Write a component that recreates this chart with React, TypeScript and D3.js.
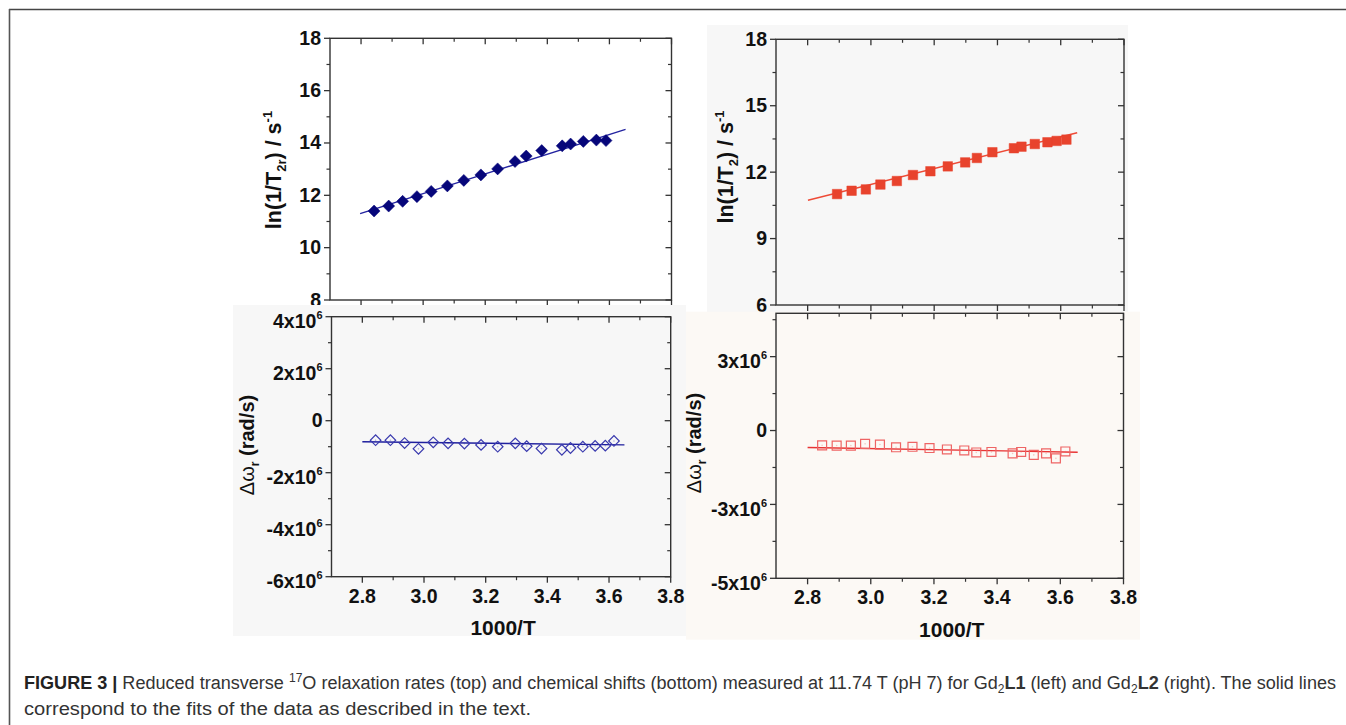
import React from 'react';
import * as d3 from 'd3';

const W = 1346;
const H = 725;

// ---- data (x = 1000/T) ----
const xL1top = [2.842, 2.889, 2.934, 2.980, 3.026, 3.078, 3.131, 3.186, 3.240, 3.296, 3.332, 3.382, 3.448, 3.475, 3.516, 3.558, 3.589];
const lnT2rL1 = [11.40, 11.59, 11.77, 11.95, 12.15, 12.36, 12.57, 12.78, 13.01, 13.29, 13.50, 13.71, 13.89, 13.96, 14.06, 14.11, 14.09];
const fitL1topX = [2.797, 3.2, 3.652];
const fitL1topY = [11.30, 12.82, 14.52];

const xL2top = [2.893, 2.939, 2.984, 3.030, 3.082, 3.133, 3.188, 3.243, 3.298, 3.335, 3.384, 3.452, 3.476, 3.518, 3.558, 3.587, 3.618];
const lnT2L2 = [11.01, 11.16, 11.22, 11.44, 11.60, 11.87, 12.04, 12.26, 12.44, 12.64, 12.90, 13.08, 13.15, 13.27, 13.35, 13.41, 13.47];
const fitL2topX = [2.801, 3.652];
const fitL2topY = [10.73, 13.78];

const xL1bot = [2.843, 2.891, 2.937, 2.982, 3.030, 3.078, 3.131, 3.185, 3.239, 3.296, 3.333, 3.381, 3.447, 3.475, 3.515, 3.555, 3.588, 3.616];
const dwL1 = [-0.75e6, -0.75e6, -0.86e6, -1.08e6, -0.83e6, -0.87e6, -0.88e6, -0.93e6, -1.0e6, -0.87e6, -0.98e6, -1.07e6, -1.12e6, -1.05e6, -1.0e6, -0.97e6, -0.96e6, -0.78e6];
const fitL1botX = [2.8, 3.65];
const fitL1botY = [-0.81e6, -0.93e6];

const xL2bot = [2.846, 2.892, 2.937, 2.982, 3.029, 3.080, 3.132, 3.186, 3.241, 3.296, 3.334, 3.382, 3.449, 3.476, 3.516, 3.555, 3.586, 3.616];
const dwL2 = [-0.60e6, -0.61e6, -0.61e6, -0.54e6, -0.57e6, -0.68e6, -0.66e6, -0.71e6, -0.77e6, -0.81e6, -0.89e6, -0.87e6, -0.93e6, -0.87e6, -0.99e6, -0.93e6, -1.13e6, -0.85e6];
const fitL2botX = [2.8, 3.655];
const fitL2botY = [-0.69e6, -0.88e6];

// ---- axes ----
const xDomain: [number, number] = [2.7, 3.8];
const xMajor = [2.8, 3.0, 3.2, 3.4, 3.6, 3.8];
const xMajorLabels = ['2.8', '3.0', '3.2', '3.4', '3.6', '3.8'];
const xMinor = [2.9, 3.1, 3.3, 3.5, 3.7];

const yTL = { domain: [8, 18], major: [8, 10, 12, 14, 16, 18], labels: ['8', '10', '12', '14', '16', '18'], minor: [9, 11, 13, 15, 17] };
const yTR = { domain: [6, 18], major: [6, 9, 12, 15, 18], labels: ['6', '9', '12', '15', '18'], minor: [7.5, 10.5, 13.5, 16.5] };
const yBL = {
  domain: [-6e6, 4e6],
  major: [-6e6, -4e6, -2e6, 0, 2e6, 4e6],
  labels: ['-6x10^6', '-4x10^6', '-2x10^6', '0', '2x10^6', '4x10^6'],
  minor: [-5e6, -3e6, -1e6, 1e6, 3e6],
};
const yBR = {
  domain: [-6e6, 4.76e6],
  major: [-6e6, -3e6, 0, 3e6],
  labels: ['-5x10^6', '-3x10^6', '0', '3x10^6'],
  minor: [-4.5e6, -1.5e6, 1.5e6, 4.5e6],
};

const FONT = "'Liberation Sans', Arial, Helvetica, sans-serif";

type Box = { l: number; t: number; r: number; b: number };

function TickLabel({ x, y, text, anchor }: { x: number; y: number; text: string; anchor: string }) {
  const [base, sup] = text.split('^');
  return (
    <text x={x} y={y} textAnchor={anchor} fontFamily={FONT} fontWeight="bold" fontSize={19.5} fill="#111">
      {base}
      {sup && (
        <tspan fontSize={11} dy={-9}>
          {sup}
        </tspan>
      )}
    </text>
  );
}

type PanelProps = {
  box: Box;
  y: { domain: number[]; major: number[]; labels: string[]; minor: number[] };
  xs: number[];
  ys: number[];
  fitX: number[];
  fitY: number[];
  shape: 'diamond' | 'square';
  filled: boolean;
  color: string;
  lineColor: string;
  showX: boolean;
  yLabel: React.ReactNode;
  yLabelPos: [number, number];
  yLabelSize: number;
  xLabelY: number;
};

function Panel(p: PanelProps) {
  const { box } = p;
  const x = d3.scaleLinear().domain(xDomain).range([box.l, box.r]);
  const y = d3.scaleLinear().domain(p.y.domain as [number, number]).range([box.b, box.t]);
  const line = d3
    .line<number>()
    .x((_, i) => x(p.fitX[i]))
    .y((d) => y(d))
    .curve(d3.curveMonotoneX);
  const sym =
    p.shape === 'diamond'
      ? d3.symbol(d3.symbolSquare, p.filled ? 72 : 56)()
      : d3.symbol(d3.symbolSquare, p.filled ? 90 : 80)();
  const rot = p.shape === 'diamond' ? 45 : 0;
  const axisCol = '#333';
  const big = 6;
  const small = 3.5;
  return (
    <g>
      {/* fit */}
      <path d={line(p.fitY) || ''} fill="none" stroke={p.lineColor} strokeWidth={1.4} />
      {/* points */}
      {p.xs.map((xv, i) => (
        <g key={i} transform={`translate(${x(xv)},${y(p.ys[i])}) rotate(${rot})`}>
          <path
            d={sym || ''}
            fill={p.filled ? p.color : 'none'}
            stroke={p.color}
            strokeWidth={p.filled ? 0.5 : 1.2}
          />
          {!p.filled && <circle r={0.8} fill={p.color} opacity={0.35} />}
        </g>
      ))}
      {/* frame */}
      <rect x={box.l} y={box.t} width={box.r - box.l} height={box.b - box.t} fill="none" stroke={axisCol} strokeWidth={1.4} />
      {/* x ticks */}
      {xMajor.map((v) => (
        <g key={'xM' + v}>
          <line x1={x(v)} x2={x(v)} y1={box.b} y2={box.b + big} stroke={axisCol} strokeWidth={1.3} />
          <line x1={x(v)} x2={x(v)} y1={box.t} y2={box.t + big} stroke={axisCol} strokeWidth={1.3} />
        </g>
      ))}
      {xMinor.map((v) => (
        <g key={'xm' + v}>
          <line x1={x(v)} x2={x(v)} y1={box.b} y2={box.b + small} stroke={axisCol} strokeWidth={1.2} />
          <line x1={x(v)} x2={x(v)} y1={box.t} y2={box.t + small} stroke={axisCol} strokeWidth={1.2} />
        </g>
      ))}
      {/* y ticks */}
      {p.y.major.map((v) => (
        <g key={'yM' + v}>
          <line x1={box.l - big} x2={box.l} y1={y(v)} y2={y(v)} stroke={axisCol} strokeWidth={1.3} />
          <line x1={box.r - big} x2={box.r} y1={y(v)} y2={y(v)} stroke={axisCol} strokeWidth={1.3} />
        </g>
      ))}
      {p.y.minor.map((v) => (
        <g key={'ym' + v}>
          <line x1={box.l - small} x2={box.l} y1={y(v)} y2={y(v)} stroke={axisCol} strokeWidth={1.2} />
          <line x1={box.r - small} x2={box.r} y1={y(v)} y2={y(v)} stroke={axisCol} strokeWidth={1.2} />
        </g>
      ))}
      {p.y.major.map((v, i) => {
        // labels with an exponent sit a little lower, as Origin centres the whole label
        const hasSup = p.y.labels[i].includes('^');
        return (
          <TickLabel
            key={'yl' + v}
            x={box.l - 9}
            y={y(v) + (hasSup ? 11.5 : 6.5)}
            text={p.y.labels[i]}
            anchor="end"
          />
        );
      })}
      {p.showX &&
        xMajor.map((v, i) => <TickLabel key={'xl' + v} x={x(v)} y={box.b + 26} text={xMajorLabels[i]} anchor="middle" />)}
      {p.showX && (
        <text
          x={(box.l + box.r) / 2 + 2}
          y={p.xLabelY}
          textAnchor="middle"
          fontFamily={FONT}
          fontWeight="bold"
          fontSize={21}
          fill="#111"
        >
          1000/T
        </text>
      )}
      <text
        transform={`translate(${p.yLabelPos[0]},${p.yLabelPos[1]}) rotate(-90)`}
        textAnchor="middle"
        fontFamily={FONT}
        fontWeight="bold"
        fontSize={p.yLabelSize}
        fill="#111"
      >
        {p.yLabel}
      </text>
    </g>
  );
}

const lnLabel = (sub: string) => (
  <>
    ln(1/T
    <tspan fontSize={13} dy={5}>
      {sub}
    </tspan>
    <tspan dy={-5}>) / s</tspan>
    <tspan fontSize={13} dy={-9}>
      -1
    </tspan>
  </>
);

const dwLabel = (
  <>
    <tspan fontWeight="normal">Δω</tspan>
    <tspan fontSize={12} dy={5}>
      r
    </tspan>
    <tspan dy={-5}> (rad/s)</tspan>
  </>
);

export default function App() {
  const capFont = "'Liberation Sans', Arial, Helvetica, sans-serif";
  return (
    <svg
      width={W}
      height={H}
      viewBox={`0 0 ${W} ${H}`}
      style={{ position: 'absolute', left: 0, top: 0, background: '#fff' }}
    >
      {/* page frame */}
      <line x1={9} x2={W} y1={9.5} y2={9.5} stroke="#454545" strokeWidth={1.6} />
      <line x1={9.5} x2={9.5} y1={9} y2={H} stroke="#555" strokeWidth={1.6} />

      {/* top left: Gd2L1 relaxation */}
      <Panel
        box={{ l: 330, t: 38.3, r: 671.5, b: 300 }}
        y={yTL}
        xs={xL1top}
        ys={lnT2rL1}
        fitX={fitL1topX}
        fitY={fitL1topY}
        shape="diamond"
        filled
        color="#06067a"
        lineColor="#2424a0"
        showX={false}
        yLabel={lnLabel('2r')}
        yLabelPos={[281, 170]}
        yLabelSize={21.5}
        xLabelY={0}
      />

      {/* top right: Gd2L2 relaxation */}
      <rect x={707} y={25} width={421} height={287} fill="#f7f7f7" />
      <Panel
        box={{ l: 776, t: 39.3, r: 1124, b: 305 }}
        y={yTR}
        xs={xL2top}
        ys={lnT2L2}
        fitX={fitL2topX}
        fitY={fitL2topY}
        shape="square"
        filled
        color="#e8432d"
        lineColor="#ee4a36"
        showX={false}
        yLabel={lnLabel('2')}
        yLabelPos={[733, 167]}
        yLabelSize={21.5}
        xLabelY={0}
      />

      {/* bottom left: Gd2L1 shifts */}
      <rect x={233} y={305} width={453} height={331} fill="#f7f7f7" />
      <Panel
        box={{ l: 331.5, t: 316.7, r: 670.7, b: 576.7 }}
        y={yBL}
        xs={xL1bot}
        ys={dwL1}
        fitX={fitL1botX}
        fitY={fitL1botY}
        shape="diamond"
        filled={false}
        color="#3a3aae"
        lineColor="#20209e"
        showX
        yLabel={dwLabel}
        yLabelPos={[254, 445]}
        yLabelSize={20}
        xLabelY={635}
      />

      {/* bottom right: Gd2L2 shifts */}
      <rect x={686} y={311.7} width={454} height={328} fill="#fcf9f5" />
      <Panel
        box={{ l: 776, t: 313.3, r: 1123.5, b: 578.3 }}
        y={yBR}
        xs={xL2bot}
        ys={dwL2}
        fitX={fitL2botX}
        fitY={fitL2botY}
        shape="square"
        filled={false}
        color="#ee6464"
        lineColor="#e83434"
        showX
        yLabel={dwLabel}
        yLabelPos={[701, 443]}
        yLabelSize={20}
        xLabelY={636.5}
      />

      {/* caption */}
      <text
        x={24}
        y={689}
        fontFamily={capFont}
        fontSize={18}
        fill="#333"
        textLength={1312}
        lengthAdjust="spacingAndGlyphs"
      >
        <tspan fontWeight="bold" fill="#222">FIGURE 3 |</tspan> Reduced transverse{' '}
        <tspan fontSize={12} dy={-7}>
          17
        </tspan>
        <tspan dy={7}>O relaxation rates (top) and chemical shifts (bottom) measured at 11.74 T (pH 7) for Gd</tspan>
        <tspan fontSize={12} dy={4}>
          2
        </tspan>
        <tspan fontWeight="bold" dy={-4}>
          L1
        </tspan>{' '}
        (left) and Gd
        <tspan fontSize={12} dy={4}>
          2
        </tspan>
        <tspan fontWeight="bold" dy={-4}>
          L2
        </tspan>{' '}
        (right). The solid lines
      </text>
      <text
        x={24}
        y={715}
        fontFamily={capFont}
        fontSize={18}
        fill="#333"
        textLength={507}
        lengthAdjust="spacingAndGlyphs"
      >
        correspond to the fits of the data as described in the text.
      </text>
    </svg>
  );
}
